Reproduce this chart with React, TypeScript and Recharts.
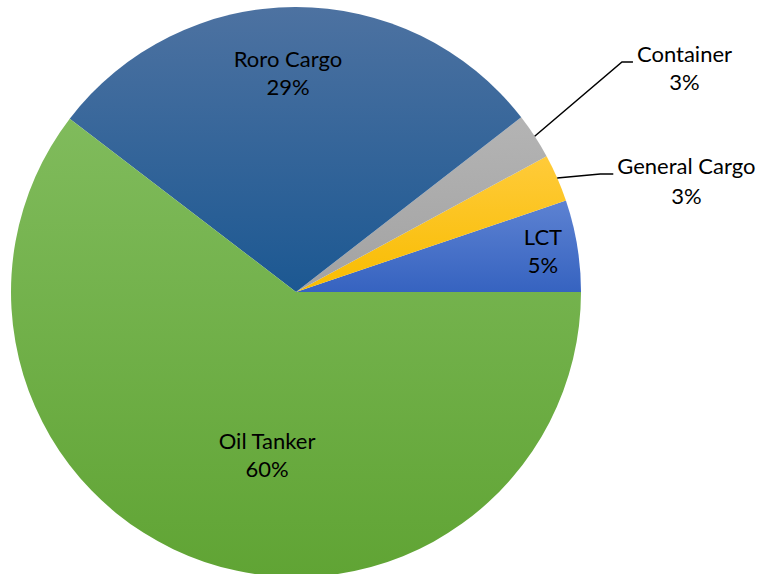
import React from "react";
import { PieChart, Pie, Cell } from "recharts";

const categories = ["LCT", "General Cargo", "Container", "Roro Cargo", "Oil Tanker"];
const shares = [5.2, 2.7, 2.6, 29.1, 60.4];

const gradients: Record<string, [string, string]> = {
  "LCT": ["#5d82d2", "#3663c0"],
  "General Cargo": ["#ffcb3a", "#f8bc00"],
  "Container": ["#b4b4b4", "#a2a2a2"],
  "Roro Cargo": ["#4d72a1", "#1c5892"],
  "Oil Tanker": ["#80bb5c", "#60a434"],
};

const data = categories.map((name, i) => ({ name, value: shares[i] }));

const FONT = "Lato, 'Open Sans', sans-serif";
const FONT_SIZE = 22;
const RAD = Math.PI / 180;

// label layout (radius factor, angle offset in degrees)
const inside: Record<string, { k: number; dA: number }> = {
  "LCT": { k: 0.874, dA: -1.85 },
  "Roro Cargo": { k: 0.741, dA: 2.0 },
  "Oil Tanker": { k: 0.607, dA: 9.1 },
};
const outside: Record<string, { k: number; dA: number; run: number; gap: number }> = {
  "Container": { k: 1.4, dA: 2.1, run: 11, gap: 28.5 },
  "General Cargo": { k: 1.145, dA: -2.4, run: 13, gap: 30 },
};

let ctx: CanvasRenderingContext2D | null = null;
function measure(text: string): number {
  if (typeof document === "undefined") return text.length * FONT_SIZE * 0.5;
  if (!ctx) ctx = document.createElement("canvas").getContext("2d");
  if (!ctx) return text.length * FONT_SIZE * 0.5;
  ctx.font = `${FONT_SIZE}px Lato`;
  return ctx.measureText(text).width;
}

function polar(cx: number, cy: number, r: number, a: number) {
  return { x: cx + r * Math.cos(a * RAD), y: cy - r * Math.sin(a * RAD) };
}

const renderLabel = (props: any) => {
  const { cx, cy, midAngle, outerRadius, name, percent } = props;
  const pct = `${Math.round(percent * 100)}%`;
  if (inside[name]) {
    const { k, dA } = inside[name];
    const p = polar(cx, cy, outerRadius * k, midAngle + dA);
    return (
      <text x={p.x} y={p.y} textAnchor="middle" fontFamily={FONT} fontSize={FONT_SIZE} fill="#000">
        <tspan x={p.x} y={p.y - 14}>{name}</tspan>
        <tspan x={p.x} y={p.y + 14}>{pct}</tspan>
      </text>
    );
  }
  const o = outside[name];
  const s = polar(cx, cy, outerRadius, midAngle);
  const e = polar(cx, cy, outerRadius * o.k, midAngle + o.dA);
  const endX = e.x + o.run;
  const w = measure(name);
  const tx = endX + 4 + w / 2;
  return (
    <g>
      <polyline
        points={`${s.x},${s.y} ${e.x},${e.y} ${endX},${e.y}`}
        fill="none"
        stroke="#000"
        strokeWidth={1.5}
      />
      <text x={tx} y={e.y} textAnchor="middle" fontFamily={FONT} fontSize={FONT_SIZE} fill="#000">
        <tspan x={tx} y={e.y}>{name}</tspan>
        <tspan x={tx} y={e.y + o.gap}>{pct}</tspan>
      </text>
    </g>
  );
};

export default function App() {
  return (
    <div style={{ position: "absolute", left: 0, top: 0, width: 761, height: 574, background: "#fff" }}>
      <PieChart width={761} height={574} margin={{ top: 0, right: 0, bottom: 0, left: 0 }}>
        <defs>
          {categories.map((c, i) => (
            <linearGradient key={c} id={`grad${i}`} x1="0" y1="0" x2="0" y2="1">
              <stop offset="0%" stopColor={gradients[c][0]} />
              <stop offset="100%" stopColor={gradients[c][1]} />
            </linearGradient>
          ))}
        </defs>
        <Pie
          data={data}
          dataKey="value"
          nameKey="name"
          cx={296}
          cy={292}
          outerRadius={285}
          startAngle={0}
          endAngle={360}
          stroke="none"
          label={renderLabel}
          labelLine={false}
          isAnimationActive={false}
        >
          {data.map((d, i) => (
            <Cell key={d.name} fill={`url(#grad${i})`} />
          ))}
        </Pie>
      </PieChart>
    </div>
  );
}
